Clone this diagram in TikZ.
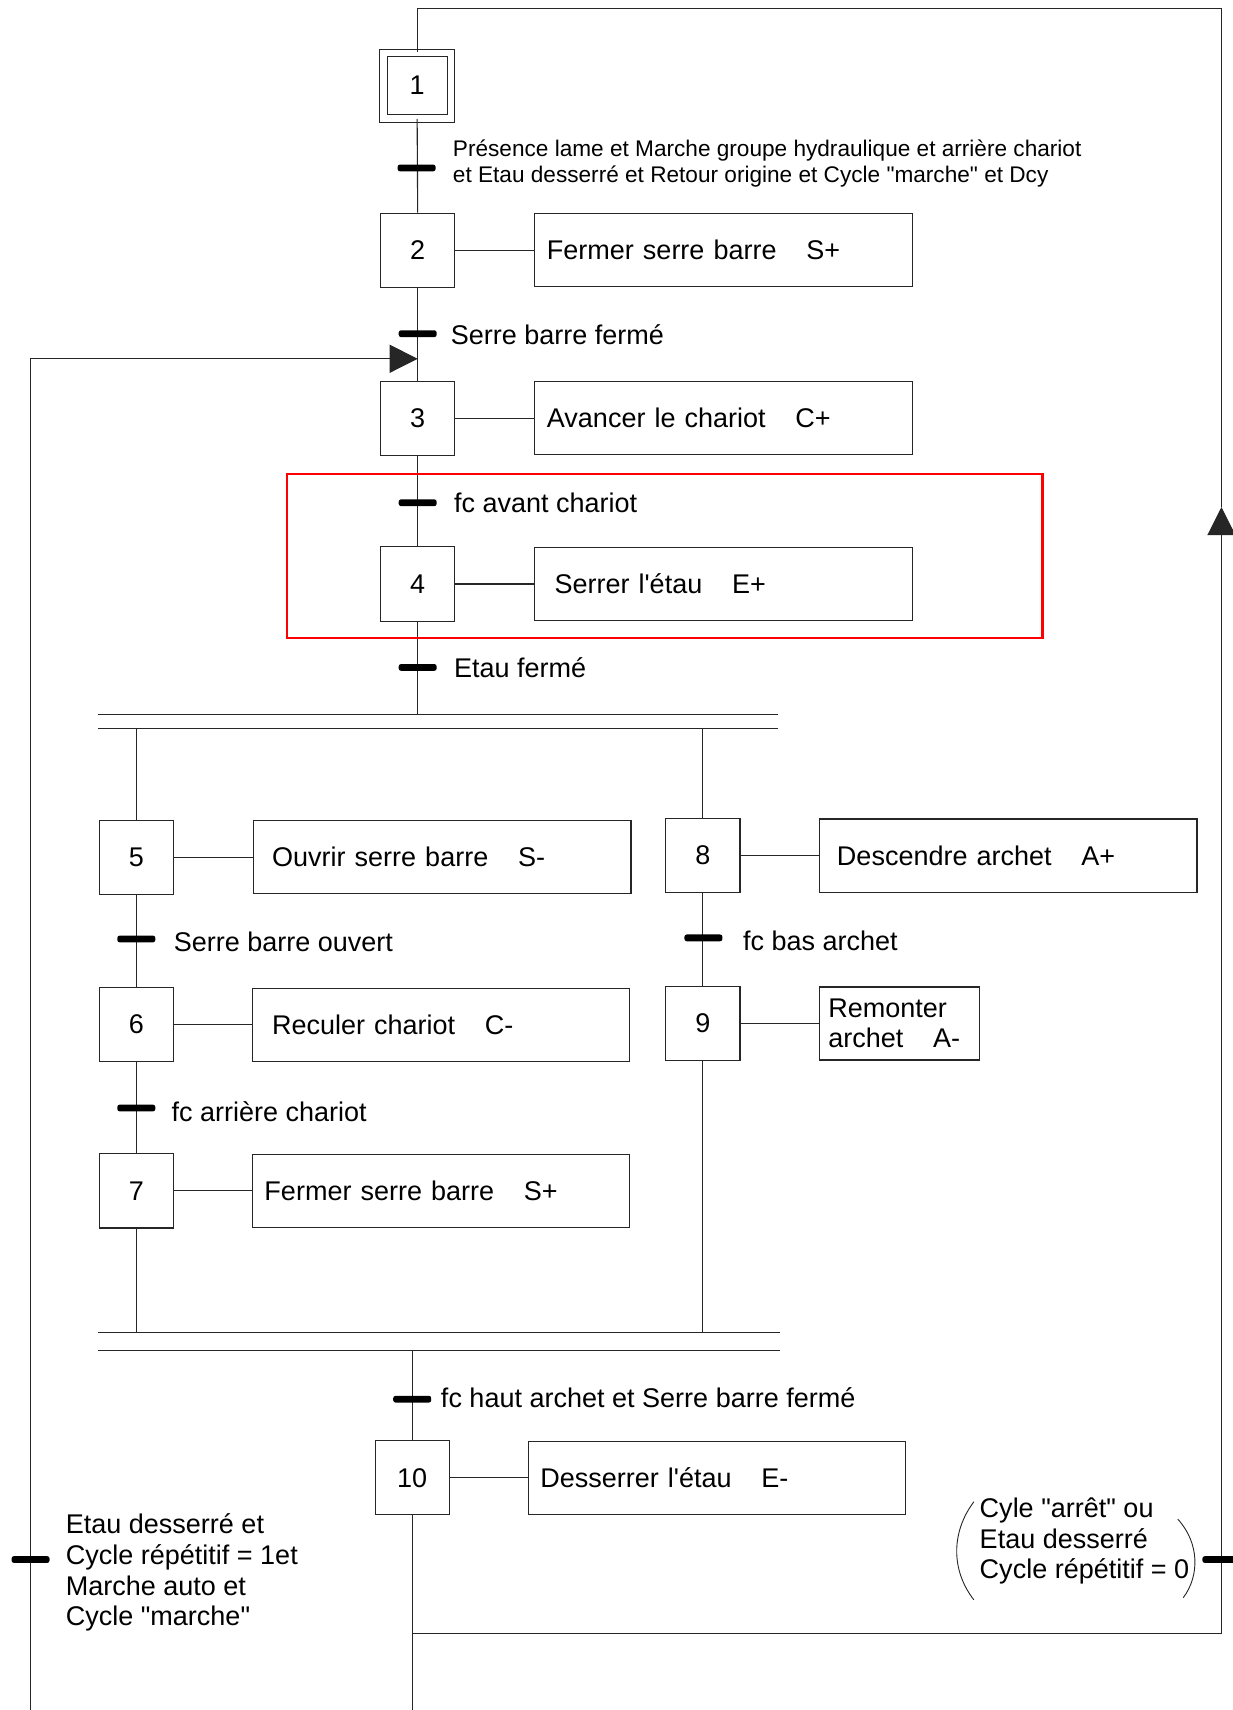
\documentclass[tikz,border=0pt]{standalone}
\usepackage{fontspec}
\setmainfont{Liberation Sans}
\usetikzlibrary{arrows.meta}
\newcommand\dq{\XeTeXglyph\XeTeXcharglyph"22\relax}
\newcommand\sq{\XeTeXglyph\XeTeXcharglyph"27\relax}
\begin{document}
\begin{tikzpicture}[x=0.545pt,y=-0.545pt,
  every node/.style={font=\fontsize{13.5}{15.3}\selectfont},
  ln/.style={line width=0.55pt, black!85},
  stepbox/.style={draw=black!85, line width=0.55pt, minimum width=37.1pt, minimum height=37.1pt, inner sep=0pt},
  initstep/.style={draw=black!85, line width=0.5pt, double, double distance=3.2pt, minimum width=33.6pt, minimum height=32.8pt, inner sep=0pt},
  act/.style={draw=black!85, line width=0.55pt, anchor=west, minimum height=36.5pt, text width=176.6pt, inner xsep=6pt, inner ysep=2pt, align=left},
  bar/.style={fill=black, minimum width=19pt, minimum height=3.4pt, inner sep=0pt, rounded corners=1.2pt},
  lbl/.style={anchor=west, inner xsep=0pt, align=left},
  tip/.style={-{Triangle[length=14pt,width=14pt]}}
]
\fill[white] (0,0) rectangle (1130,1568);
\useasboundingbox (0,0) rectangle (1130,1568);

% steps
\node[initstep] (s1) at (382.5,78.5) {1};
\node[stepbox] (s2) at (383,229.5) {2};
\node[stepbox] (s3) at (383,383.5) {3};
\node[stepbox] (s4) at (383,535.5) {4};
\node[stepbox] (s5) at (125,786) {5};
\node[stepbox] (s6) at (125,939.5) {6};
\node[stepbox] (s7) at (125,1092) {7};
\node[stepbox] (s8) at (644.5,784.5) {8};
\node[stepbox] (s9) at (644.5,938.5) {9};
\node[stepbox] (s10) at (378,1355) {10};

% actions
\node[act] (a2) at (490,229.5) {Fermer serre barre\hspace{1.1em}S+};
\node[act] (a3) at (490,383.5) {Avancer le chariot\hspace{1.1em}C+};
\node[act] (a4) at (490,535.5) {\hspace*{3.8pt}Serrer l\sq étau\hspace{1.1em}E+};
\node[act] (a5) at (232,786) {\hspace*{3.3pt}Ouvrir serre barre\hspace{1.1em}S-};
\node[act] (a6) at (231,939.5) {\hspace*{3.8pt}Reculer chariot\hspace{1.1em}C-};
\node[act] (a7) at (231,1092) {Fermer serre barre\hspace{1.1em}S+};
\node[act] (a8) at (751,784.5) {\hspace*{2.7pt}Descendre archet\hspace{1.1em}A+};
\node[act, text width=71.3pt, inner xsep=4.4pt] (a9) at (751,938.5) {Remonter\\archet\hspace{1.1em}A-};
\node[act] (a10) at (484,1355) {Desserrer l\sq étau\hspace{1.1em}E-};

\foreach \n in {2,...,10} {\draw[ln] (s\n.east) -- (a\n.west);}

% coordinates
\coordinate (d0) at (383,655);
\coordinate (d1) at (90,668);
\coordinate (c1) at (90,1222);
\coordinate (c2) at (90,1238);
\coordinate (bot10) at (378,1568);
\coordinate (bl) at (378,1498);
\coordinate (br) at (1120,1498);
\coordinate (arrR) at (1120,465);
\coordinate (tr) at (1120,8);
\coordinate (lb) at (28,1568);
\coordinate (lt) at (28,329);
\coordinate (j3) at (383,329);

% main links
\draw[ln] (s1.south) -- (s2.north);
\draw[ln] (s2.south) -- (s3.north);
\draw[ln] (s3.south) -- (s4.north);
\draw[ln] (s4.south) -- (d0);
\draw[ln] (90,655) -- (713,655);
\draw[ln] (d1) -- (713,668);
\draw[ln] (s5.north |- d1) -- (s5.north);
\draw[ln] (s8.north |- d1) -- (s8.north);
\draw[ln] (s5.south) -- (s6.north);
\draw[ln] (s6.south) -- (s7.north);
\draw[ln] (s8.south) -- (s9.north);
\draw[ln] (s7.south) -- (s7.south |- c1);
\draw[ln] (s9.south) -- (s9.south |- c1);
\draw[ln] (c1) -- (715,1222);
\draw[ln] (c2) -- (715,1238);
\draw[ln] (s10.north |- c2) -- (s10.north);
\draw[ln] (s10.south) -- (bot10);

% loops
\draw[ln] (bl) -- (br);
\draw[ln, tip] (br) -- (arrR);
\draw[ln] (arrR) -- (tr) -| (s1.north);
\draw[ln, tip] (lb) -- (lt) -- (j3);

% transitions
\node[bar] (t1) at (382,154) {};
\node[bar] (t2) at (383,306) {};
\node[bar] (t3) at (383,461) {};
\node[bar] (t4) at (383,612) {};
\node[bar] (t5) at (125,861) {};
\node[bar] (t6) at (125,1016) {};
\node[bar] (t8) at (645,860) {};
\node[bar] (t10) at (378,1283) {};
\node[bar] (tL) at (28,1430) {};
\node[bar] (tR) at (1120,1430) {};

% labels
\node[lbl, font=\fontsize{11.3}{13.1}\selectfont] (l1) at (415,150) {Présence lame et Marche groupe hydraulique et arrière chariot\\et Etau desserré et Retour origine et Cycle \dq marche\dq{} et Dcy};
\node[lbl] (l2) at (413,307) {Serre barre fermé};
\node[lbl] (l3) at (416,461) {fc avant chariot};
\node[lbl] (l4) at (416,612) {Etau fermé};
\node[lbl] (l5) at (159,864) {Serre barre ouvert};
\node[lbl] (l6) at (157,1019) {fc arrière chariot};
\node[lbl] (l8) at (681,863) {fc bas archet};
\node[lbl] (l10) at (404,1282) {fc haut archet et Serre barre fermé};
\node[lbl] (lL) at (60,1442) {Etau desserré et\\Cycle répétitif = 1et\\Marche auto et\\Cycle \dq marche\dq};
\node[lbl, font=\fontsize{13.5}{15}\selectfont] (lR) at (898,1413) {Cyle \dq arrêt\dq{} ou\\Etau desserré\\Cycle répétitif = 0};

% parentheses
\draw[ln, line width=0.45pt] (893,1377) .. controls (872,1405) and (872,1440) .. (893,1467);
\draw[ln, line width=0.45pt] (1080,1393) .. controls (1100,1415) and (1100,1445) .. (1085,1465);

% highlight
\draw[red, line width=1.1pt] (263,435) rectangle (956,585);
\end{tikzpicture}
\end{document}
